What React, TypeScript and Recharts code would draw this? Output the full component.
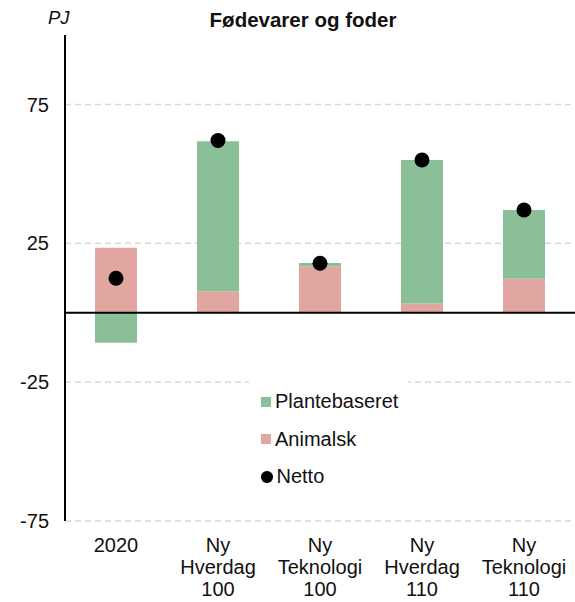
import { Bar, CartesianGrid, ComposedChart, Legend, Line, ReferenceLine, XAxis, YAxis } from "recharts";

const categories = ["2020", "Ny\nHverdag\n100", "Ny\nTeknologi\n100", "Ny\nHverdag\n110", "Ny\nTeknologi\n110"];
const animalsk = [23.4, 7.7, 16.7, 3.3, 12.2];
const plantebaseret = [-10.8, 54.0, 1.2, 51.7, 24.8];
const netto = [12.4, 62.0, 17.8, 55.0, 37.0];
const yTicks = [-75, -25, 25, 75];

const GREEN = "#8bbf97";
const PINK = "#e2a6a0";
const FONT = "'Liberation Sans', Arial, sans-serif";

const data = categories.map((c, i) => ({
  name: c,
  animalsk: animalsk[i],
  plantebaseret: plantebaseret[i],
  netto: netto[i],
}));

function XTick({ x, y, payload }: any) {
  const lines = String(payload.value).split("\n");
  return (
    <text x={x} y={y} textAnchor="middle" fontSize={20} fill="#111" fontFamily={FONT}>
      {lines.map((l, i) => (
        <tspan key={i} x={x} dy={i === 0 ? 23 : 22}>
          {l}
        </tspan>
      ))}
    </text>
  );
}

function LegendBox() {
  const items = [
    { label: "Plantebaseret", color: GREEN, kind: "sq" },
    { label: "Animalsk", color: PINK, kind: "sq" },
    { label: "Netto", color: "#000", kind: "dot" },
  ];
  return (
    <div style={{ background: "#fff", padding: "8px 0 6px 12px", fontFamily: FONT, fontSize: 20, color: "#111" }}>
      {items.map((it) => (
        <div key={it.label} style={{ display: "flex", alignItems: "center", height: 37.5 }}>
          <span
            style={{
              display: "inline-block",
              width: it.kind === "dot" ? 11.5 : 10,
              height: it.kind === "dot" ? 11.5 : 10,
              borderRadius: it.kind === "dot" ? "50%" : 0,
              background: it.color,
              marginRight: 4,
            }}
          />
          {it.label}
        </div>
      ))}
    </div>
  );
}

export default function App() {
  return (
    <div style={{ position: "absolute", left: 0, top: 0, width: 575, height: 602, background: "#fff" }}>
      <div style={{ position: "absolute", left: 48, top: 7, fontFamily: FONT, fontSize: 18.5, fontStyle: "italic", color: "#111" }}>
        PJ
      </div>
      <div style={{ position: "absolute", left: 0, width: 606, top: 8, textAlign: "center", fontFamily: FONT, fontSize: 20.5, fontWeight: "bold", color: "#111" }}>
        Fødevarer og foder
      </div>
      <ComposedChart
        width={575}
        height={602}
        data={data}
        stackOffset="sign"
        margin={{ top: 35, right: 0, left: 0, bottom: 0 }}
      >
        <CartesianGrid
          vertical={false}
          horizontalValues={yTicks}
          stroke="#d9d9d9"
          strokeDasharray="6 4"
          strokeWidth={1.5}
        />
        <XAxis
          dataKey="name"
          axisLine={false}
          tickLine={false}
          interval={0}
          height={81}
          tick={<XTick />}
        />
        <YAxis
          domain={[-75, 100]}
          ticks={yTicks}
          width={65}
          axisLine={{ stroke: "#000", strokeWidth: 2 }}
          tickLine={false}
          tick={{ fontSize: 20, fill: "#111", fontFamily: FONT }}
          tickMargin={10}
        />
        <Bar dataKey="animalsk" stackId="a" fill={PINK} barSize={42} isAnimationActive={false} />
        <Bar dataKey="plantebaseret" stackId="a" fill={GREEN} barSize={42} isAnimationActive={false} />
        <ReferenceLine y={0} stroke="#000" strokeWidth={2} />
        <Line
          dataKey="netto"
          stroke="none"
          dot={{ r: 7.5, fill: "#000", stroke: "none" }}
          activeDot={false}
          isAnimationActive={false}
        />
        <Legend
          content={<LegendBox />}
          layout="vertical"
          align="center"
          verticalAlign="middle"
          wrapperStyle={{ left: 249, top: 375, width: 159 }}
        />
      </ComposedChart>
    </div>
  );
}
